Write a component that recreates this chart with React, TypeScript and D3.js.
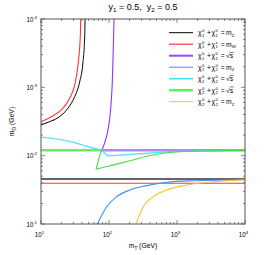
import React from "react";
import * as d3 from "d3";

const W = 269;
const H = 255;
const margin = { left: 41, right: 24, top: 19, bottom: 31 };

// curves: [m_T (GeV), m_O (GeV)]
const chi11Z: [number, number][] = [[10, 281], [12.7, 308], [17.8, 360], [24.9, 494], [31.3, 731], [37.1, 1210], [41.5, 2377], [44, 5850], [44.4, 10000]];
const chi11ZFlat: [number, number][] = [[10, 45.5], [10000, 45.5]];
const chi1cW: [number, number][] = [[10, 315], [14.2, 372], [19.9, 467], [26.4, 692], [31.3, 1084], [35, 2128], [37.9, 5850], [38.4, 10000]];
const chi1cWFlat: [number, number][] = [[10, 39.5], [10000, 39.5]];
const chi11S: [number, number][] = [[77, 120], [78.2, 121], [87.3, 160], [97.7, 252], [106, 494], [111.9, 1210], [115.6, 3733], [118.6, 10000]];
const chi11SFlat: [number, number][] = [[77, 120], [10000, 120]];
const chi12Z: [number, number][] = [[67.3, 10], [92.5, 17.9], [129.6, 25.1], [204, 31.5], [358, 36.4], [706, 40.8], [1738, 43], [10000, 44.5]];
const chi12S: [number, number][] = [[10, 186], [17.8, 174], [31.3, 155], [49.1, 135.6], [77, 120], [96.6, 99], [267, 106], [788, 114.6], [3000, 118.5], [10000, 120]];
const chi22SFlat: [number, number][] = [[10, 120], [77, 120]];
const chi22SEdge: [number, number][] = [[77, 120], [64.4, 63.2]];
const chi22S: [number, number][] = [[64.4, 63.2], [103.5, 71.1], [225, 86.5], [401, 100.7], [666, 109.6], [1312, 115.2], [3055, 117.5], [10000, 119]];
const chi22Z: [number, number][] = [[250, 10], [319, 17.9], [448, 25.1], [706, 31.5], [1390, 37.2], [3420, 41.6], [10000, 44.5]];

const xTicks = [10, 100, 1000, 10000];
const yTicks = [10, 100, 1000, 10000];
const tickExp = ["1", "2", "3", "4"];

const legendLabels = [
  { a: ["0", "1"], b: ["0", "1"], rhs: "Z" },
  { a: ["0", "1"], b: ["±", "1"], rhs: "W" },
  { a: ["0", "1"], b: ["0", "1"], rhs: "s" },
  { a: ["0", "1"], b: ["0", "2"], rhs: "Z" },
  { a: ["0", "1"], b: ["0", "2"], rhs: "s" },
  { a: ["0", "2"], b: ["0", "2"], rhs: "s" },
  { a: ["0", "2"], b: ["0", "2"], rhs: "Z" },
];
const legendColors = ["#000000", "#ff3535", "#9b45ff", "#3d8cff", "#48def5", "#66ee66", "#ffc030"];
const legendWidths = [1, 1.2, 2, 1, 1.6, 2.6, 1];

const Chi = ({ x, y, sup, sub }: { x: number; y: number; sup: string; sub: string }) => (
  <>
    <text x={x} y={y} fontSize={6.8}>χ</text>
    <text x={x + 4} y={y - 2.8} fontSize={4.2}>{sup}</text>
    <text x={x + 4} y={y + 1.9} fontSize={4.2}>{sub}</text>
  </>
);

export default function App() {
  const x = d3.scaleLog().domain([10, 10000]).range([margin.left, W - margin.right]);
  const y = d3.scaleLog().domain([10, 10000]).range([H - margin.bottom, margin.top]);

  const smooth = d3.line<[number, number]>().x((d) => x(d[0])).y((d) => y(d[1])).curve(d3.curveMonotoneX);
  const straight = d3.line<[number, number]>().x((d) => x(d[0])).y((d) => y(d[1]));

  const minor: number[] = [];
  for (let e = 1; e < 4; e++) for (let m = 2; m < 10; m++) minor.push(m * Math.pow(10, e));

  const x0 = margin.left;
  const x1 = W - margin.right;
  const y0 = margin.top;
  const y1 = H - margin.bottom;

  const series = [
    { d: smooth(chi11Z), c: legendColors[0], w: 1 },
    { d: straight(chi11ZFlat), c: "#333333", w: 1.4 },
    { d: smooth(chi1cW), c: legendColors[1], w: 1.1 },
    { d: straight(chi1cWFlat), c: legendColors[1], w: 1.1 },
    { d: smooth(chi11S), c: "#8a35ff", w: 1.1 },
    { d: straight(chi11SFlat), c: "#b488ff", w: 2.6 },
    { d: smooth(chi12Z), c: legendColors[3], w: 1.1 },
    { d: smooth(chi12S.slice(0, 5)), c: legendColors[4], w: 1.2 },
    { d: straight(chi12S.slice(4, 6)), c: legendColors[4], w: 1.2 },
    { d: smooth(chi12S.slice(5)), c: legendColors[4], w: 1.2 },
    { d: straight(chi22SFlat), c: "#6ee86e", w: 2.6 },
    { d: straight(chi22SEdge), c: "#44dd44", w: 1.1 },
    { d: smooth(chi22S), c: "#44dd44", w: 1.1 },
    { d: smooth(chi22Z), c: legendColors[6], w: 1.1 },
  ];

  return (
    <svg width={W} height={H} style={{ position: "absolute", left: 0, top: 0, background: "#fff" }} fontFamily="'Liberation Sans', Arial, sans-serif">
      <defs>
        <clipPath id="plot">
          <rect x={x0} y={y0} width={x1 - x0} height={y1 - y0} />
        </clipPath>
      </defs>

      <text x={143} y={10} textAnchor="middle" fontSize={9} style={{ whiteSpace: "pre" }}>
        y<tspan fontSize={6.2} dy={2}>1</tspan>
        <tspan dy={-2}> = 0.5,  y</tspan>
        <tspan fontSize={6.2} dy={2}>2</tspan>
        <tspan dy={-2}> = 0.5</tspan>
      </text>

      <g clipPath="url(#plot)" fill="none">
        {series.map((s, i) => (
          <path key={i} d={s.d ?? ""} stroke={s.c} strokeWidth={s.w} />
        ))}
      </g>

      {/* ticks, all four sides pointing in */}
      <g stroke="#666" strokeWidth={0.8}>
        {xTicks.map((t) => (
          <g key={"xt" + t}>
            <line x1={x(t)} x2={x(t)} y1={y1} y2={y1 - 4} />
            <line x1={x(t)} x2={x(t)} y1={y0} y2={y0 + 4} />
          </g>
        ))}
        {minor.map((t) => (
          <g key={"xm" + t}>
            <line x1={x(t)} x2={x(t)} y1={y1} y2={y1 - 2} />
            <line x1={x(t)} x2={x(t)} y1={y0} y2={y0 + 2} />
            <line x1={x0} x2={x0 + 2} y1={y(t)} y2={y(t)} />
            <line x1={x1} x2={x1 - 2} y1={y(t)} y2={y(t)} />
          </g>
        ))}
        {yTicks.map((t) => (
          <g key={"yt" + t}>
            <line x1={x0} x2={x0 + 4} y1={y(t)} y2={y(t)} />
            <line x1={x1} x2={x1 - 4} y1={y(t)} y2={y(t)} />
          </g>
        ))}
      </g>
      <rect x={x0} y={y0} width={x1 - x0} height={y1 - y0} fill="none" stroke="#555" strokeWidth={1} />

      {xTicks.map((t, i) => (
        <text key={"xl" + t} x={x(t) - 1.5} y={y1 + 13} textAnchor="middle" fontSize={6.3}>
          10<tspan fontSize={4.4} dy={-2.8}>{tickExp[i]}</tspan>
        </text>
      ))}
      {yTicks.map((t, i) => (
        <text key={"yl" + t} x={x0 - 7.5} y={y(t) + 2.5} textAnchor="end" fontSize={6.3}>
          10
          <tspan x={x0 - 4} textAnchor="end" fontSize={4.4} dy={-2.8}>{tickExp[i]}</tspan>
        </text>
      ))}

      <text x={143} y={248} textAnchor="middle" fontSize={6.8}>
        m<tspan fontSize={4.6} dy={1.8}>T</tspan>
        <tspan dy={-1.8}> (GeV)</tspan>
      </text>
      <text transform={`translate(14,${(y0 + y1) / 2}) rotate(-90)`} textAnchor="middle" fontSize={6.8}>
        m<tspan fontSize={4.6} dy={1.8}>O</tspan>
        <tspan dy={-1.8}> (GeV)</tspan>
      </text>

      {legendLabels.map((l, i) => {
        const ly = 32.7 + i * 11.5;
        return (
          <g key={"lg" + i}>
            <line x1={169} x2={193} y1={ly} y2={ly} stroke={legendColors[i]} strokeWidth={legendWidths[i]} />
            <Chi x={198} y={ly + 2.3} sup={l.a[0]} sub={l.a[1]} />
            <text x={207} y={ly + 2.3} fontSize={6.8}>+</text>
            <Chi x={211.5} y={ly + 2.3} sup={l.b[0]} sub={l.b[1]} />
            <text x={220.8} y={ly + 2.3} fontSize={6.8}>=</text>
            {l.rhs === "s" ? (
              <>
                <text x={226} y={ly + 2.3} fontSize={6.8}>√s</text>
                <line x1={230} x2={233.8} y1={ly - 3.3} y2={ly - 3.3} stroke="#000" strokeWidth={0.5} />
              </>
            ) : (
              <text x={226} y={ly + 2.3} fontSize={6.8}>
                m<tspan fontSize={4.4} dy={1.6}>{l.rhs}</tspan>
              </text>
            )}
          </g>
        );
      })}
    </svg>
  );
}
